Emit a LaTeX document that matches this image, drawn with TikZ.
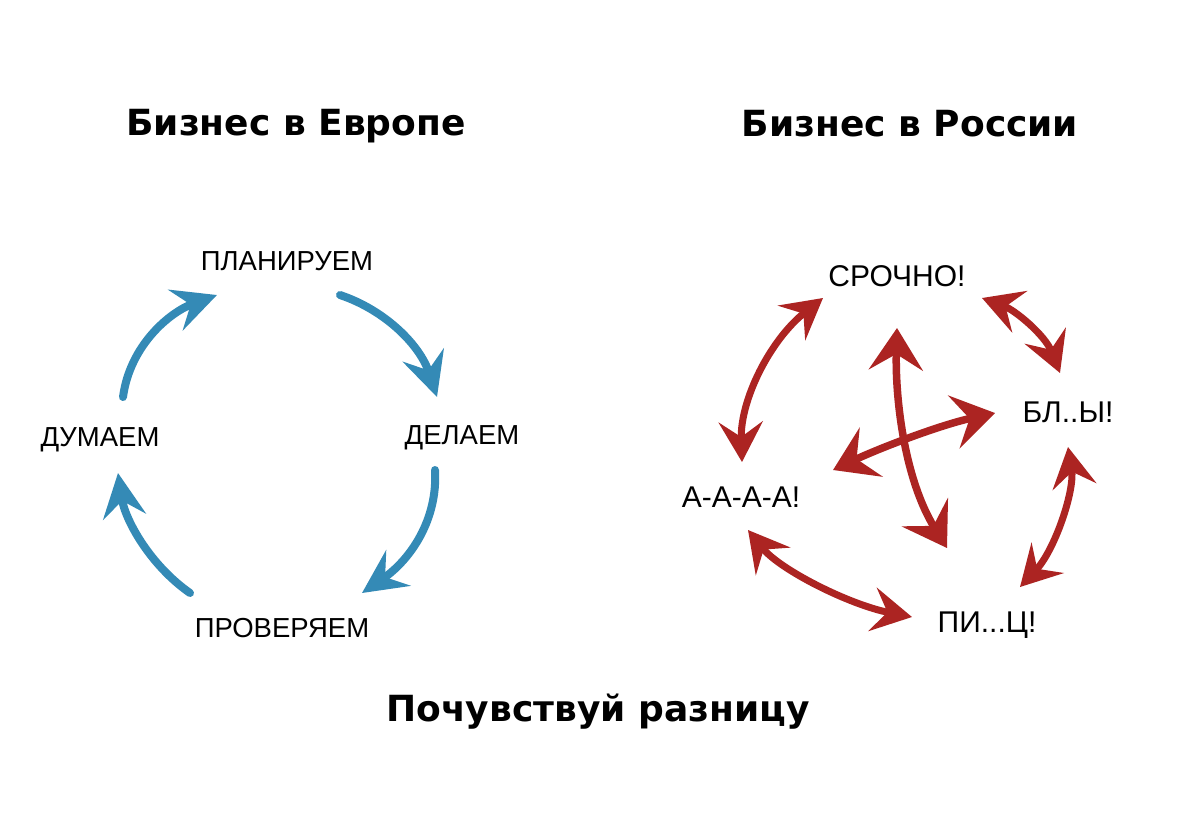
\documentclass[tikz,border=0pt]{standalone}
\usepackage{fontspec}
\setmainfont{Liberation Sans}
\newfontfamily\titlefont{DejaVu Sans}
\usetikzlibrary{arrows.meta}
\definecolor{eublue}{RGB}{52,138,182}
\definecolor{rured}{RGB}{172,36,34}
\begin{document}
\begin{tikzpicture}[x=1pt,y=-1pt,
  title/.style={font=\titlefont\bfseries\fontsize{36}{38}\selectfont, inner sep=0pt},
  lbl/.style={font=\fontsize{27.5}{29}\selectfont, inner sep=0pt},
  rlbl/.style={font=\fontsize{30}{32}\selectfont, inner sep=0pt},
  bluearrow/.style={draw=eublue, line width=8pt, line cap=round,
    -{Stealth[length=44pt,width=43pt,inset=16pt]}},
  redhead/.tip={Stealth[length=40pt,width=44pt,inset=15pt]},
  bighead/.tip={Stealth[length=42pt,width=54pt,inset=16pt]},
  redarrow/.style={draw=rured, line width=7pt, line cap=round, redhead-redhead},
  redbig/.style={draw=rured, line width=7.5pt, line cap=round, bighead-bighead}]
\useasboundingbox[fill=white] (0,0) rectangle (1200,815);

% titles
\node[title] (teu) at (296,126) {Бизнес в Европе};
\node[title] (tru) at (910,124) {Бизнес в России};
\node[title] (tdiff) at (598,712) {Почувствуй разницу};

% Europe labels
\node[lbl] (plan) at (287,261) {ПЛАНИРУЕМ};
\node[lbl] (dum) at (100,440) {ДУМАЕМ};
\node[lbl] (del) at (462,438) {ДЕЛАЕМ};
\node[lbl] (prov) at (282,628) {ПРОВЕРЯЕМ};

% Europe arrow ends
\coordinate (e1s) at (123,397); \coordinate (e1e) at (217,295);
\coordinate (e2s) at (340,295); \coordinate (e2e) at (437,397);
\coordinate (e3s) at (435,470); \coordinate (e3e) at (362,593);
\coordinate (e4s) at (190,593); \coordinate (e4e) at (118,473);

\draw[bluearrow] (e1s) .. controls (130,345) and (170,312) .. (e1e);
\draw[bluearrow] (e2s) .. controls (385,310) and (420,345) .. (e2e);
\draw[bluearrow] (e3s) .. controls (438,520) and (410,560) .. (e3e);
\draw[bluearrow] (e4s) .. controls (150,565) and (125,520) .. (e4e);

% Russia labels
\node[rlbl] (sroch) at (897,276) {СРОЧНО!};
\node[rlbl] (bl) at (1068,412) {БЛ..Ы!};
\node[rlbl] (aaa) at (741,497) {А-А-А-А!};
\node[rlbl] (pic) at (987,625) {ПИ...Ц!};

% Russia arrow ends
\coordinate (r1a) at (742,462); \coordinate (r1b) at (823,298);
\coordinate (r2a) at (982,298); \coordinate (r2b) at (1060,373);
\coordinate (r3a) at (1068,447); \coordinate (r3b) at (1020,587);
\coordinate (r4a) at (748,530); \coordinate (r4b) at (912,617);
\coordinate (r5a) at (897,328); \coordinate (r5b) at (947,548);
\coordinate (r6a) at (833,470); \coordinate (r6b) at (995,413);

\draw[redarrow] (r1a) .. controls (740,400) and (770,340) .. (r1b);
\draw[redarrow] (r2a) .. controls (1015,310) and (1045,335) .. (r2b);
\draw[redarrow] (r3a) .. controls (1075,490) and (1055,550) .. (r3b);
\draw[redarrow] (r4a) .. controls (780,570) and (850,605) .. (r4b);
\draw[redbig] (r5a) .. controls (895,400) and (905,480) .. (r5b);
\draw[redbig] (r6a) .. controls (880,448) and (940,425) .. (r6b);
\end{tikzpicture}
\end{document}
